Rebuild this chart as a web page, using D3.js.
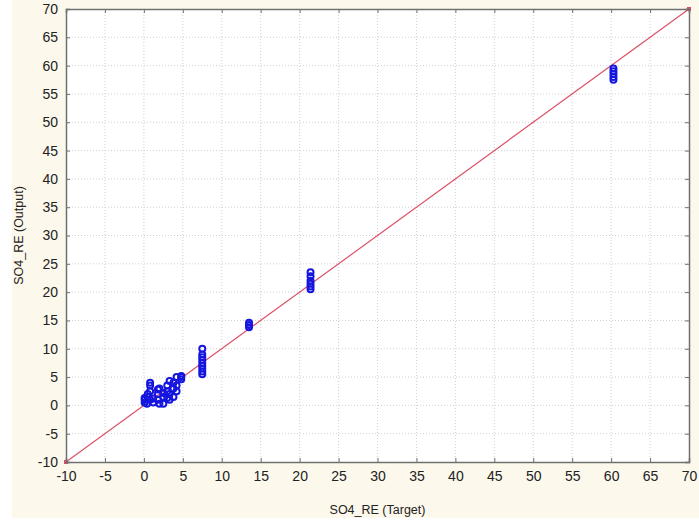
<!DOCTYPE html>
<html><head><meta charset="utf-8">
<script src="https://cdn.jsdelivr.net/npm/d3@7"></script>
<style>body{margin:0;background:#fff}svg{display:block}</style>
</head><body>
<svg id="c" width="699" height="526"></svg>
<script>
const xTicks = [-10,-5,0,5,10,15,20,25,30,35,40,45,50,55,60,65,70];
const yTicks = [-10,-5,0,5,10,15,20,25,30,35,40,45,50,55,60,65,70];
const targets = [0.1,0.1,0.1,0.4,0.5,0.5,0.8,0.8,0.8,0.8,1.2,1.2,1.8,1.8,1.8,2.0,2.0,2.5,2.5,2.5,3.0,3.0,3.0,3.3,3.3,3.3,3.8,3.8,3.8,4.2,4.2,4.2,4.8,4.8,4.8,
  7.5,7.5,7.5,7.5,7.5,7.5,7.5,7.5,7.5,
  13.5,13.5,13.5,
  21.4,21.4,21.4,21.4,21.4,21.4,
  60.3,60.3,60.3,60.3,60.3];
const outputs = [0.5,1.0,1.3,0.3,1.5,2.0,1.0,2.5,3.5,4.0,0.5,1.2,1.0,2.0,2.8,0.3,3.0,0.3,1.5,2.2,1.3,2.5,3.5,4.3,2.0,1.0,3.0,4.0,1.5,5.0,3.5,2.5,5.2,4.6,5.0,
  5.5,6.0,6.5,7.0,7.5,8.0,8.5,9.0,10.0,
  13.8,14.2,14.6,
  20.5,21.0,21.5,22.0,22.8,23.5,
  57.5,58.0,58.5,59.0,59.5];
const fitLine = [[-10,-10],[70,70]];

const svg = d3.select('#c');
svg.append('rect').attr('x',12).attr('y',0).attr('width',687).attr('height',518).attr('fill','#fcf8ec');
const L=66,R=689,T=9,B=462;
const x = d3.scaleLinear().domain([-10,70]).range([L,R]);
const y = d3.scaleLinear().domain([-10,70]).range([B,T]);
svg.append('rect').attr('x',L).attr('y',T).attr('width',R-L).attr('height',B-T).attr('fill','#fff');
const g = svg.append('g');
g.selectAll('.gx').data(xTicks.slice(1,-1)).join('line').attr('x1',d=>x(d)).attr('x2',d=>x(d)).attr('y1',T).attr('y2',B)
 .attr('stroke','#d0d0d0').attr('stroke-width',1).attr('stroke-dasharray','1,2');
g.selectAll('.gy').data(yTicks.slice(1,-1)).join('line').attr('y1',d=>y(d)).attr('y2',d=>y(d)).attr('x1',L).attr('x2',R)
 .attr('stroke','#d0d0d0').attr('stroke-width',1).attr('stroke-dasharray','1,2');
svg.append('line').attr('x1',x(fitLine[0][0])).attr('y1',y(fitLine[0][1])).attr('x2',x(fitLine[1][0])).attr('y2',y(fitLine[1][1]))
 .attr('stroke','#dd5066').attr('stroke-width',1.2);
svg.selectAll('.end').data(fitLine).join('rect').attr('x',d=>x(d[0])-2).attr('y',d=>y(d[1])-2).attr('width',4).attr('height',4).attr('fill','#dd5066');
svg.append('g').selectAll('circle').data(targets.map((t,i)=>[t,outputs[i]])).join('circle')
 .attr('cx',d=>x(d[0])).attr('cy',d=>y(d[1])).attr('r',3).attr('fill','none').attr('stroke','#1515e0').attr('stroke-width',2);
const fmt = d=>String(d);
const xa = svg.append('g').attr('transform',`translate(0,${B})`).call(d3.axisBottom(x).tickValues(xTicks).tickSize(-4).tickPadding(9).tickFormat(fmt));
const ya = svg.append('g').attr('transform',`translate(${L},0)`).call(d3.axisLeft(y).tickValues(yTicks).tickSize(-4).tickPadding(8).tickFormat(fmt));
const xt = svg.append('g').attr('transform',`translate(0,${T})`).call(d3.axisTop(x).tickValues(xTicks).tickSize(-4).tickFormat(''));
const yr = svg.append('g').attr('transform',`translate(${R},0)`).call(d3.axisRight(y).tickValues(yTicks).tickSize(-4).tickFormat(''));
[xa,ya,xt,yr].forEach(a=>{a.select('.domain').attr('stroke','#707070').attr('stroke-width',1.5);a.selectAll('.tick line').attr('stroke','#707070');
 a.selectAll('text').attr('font-family','Liberation Sans, Arial, sans-serif').attr('font-size',14).attr('fill','#222');});
svg.append('text').attr('x',(L+R)/2).attr('y',514).attr('text-anchor','middle').attr('font-family','Liberation Sans, Arial, sans-serif').attr('font-size',12.5).attr('fill','#222').text('SO4_RE (Target)');
svg.append('text').attr('transform',`translate(23,${(T+B)/2}) rotate(-90)`).attr('text-anchor','middle').attr('font-family','Liberation Sans, Arial, sans-serif').attr('font-size',12.5).attr('fill','#222').text('SO4_RE (Output)');
</script>
</body></html>
